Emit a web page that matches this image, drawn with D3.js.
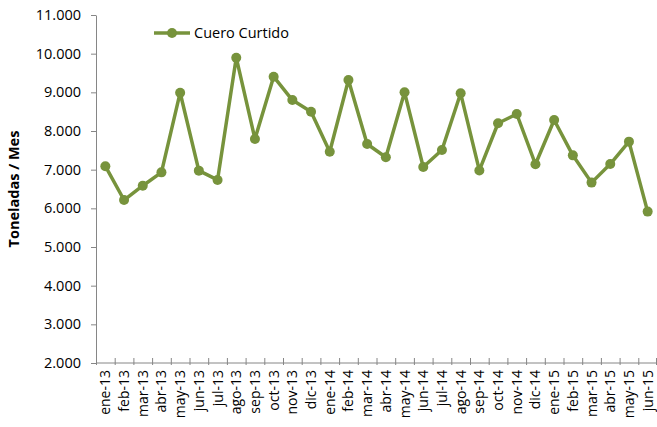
<!DOCTYPE html>
<html>
<head>
<meta charset="utf-8">
<script src="https://cdn.jsdelivr.net/npm/d3@7/dist/d3.min.js"></script>
<style>
  body { margin: 0; background: #fff; }
  text { font-family: "Open Sans", "Liberation Sans", sans-serif; fill: #000; }
</style>
</head>
<body>
<div id="chart"></div>
<script>
// data
var months = ["ene-13", "feb-13", "mar-13", "abr-13", "may-13", "jun-13", "jul-13", "ago-13", "sep-13", "oct-13", "nov-13", "dic-13",
  "ene-14", "feb-14", "mar-14", "abr-14", "may-14", "jun-14", "jul-14", "ago-14", "sep-14", "oct-14", "nov-14", "dic-14",
  "ene-15", "feb-15", "mar-15", "abr-15", "may-15", "jun-15"];
var cueroCurtido = [7090, 6215, 6585, 6930, 8990, 6975, 6735, 9895, 7795, 9405, 8800, 8500,
  7465, 9320, 7665, 7320, 9000, 7070, 7510, 8975, 6980, 8200, 8440, 7140,
  8285, 7370, 6665, 7145, 7725, 5915];
var yTicks = [2000, 3000, 4000, 5000, 6000, 7000, 8000, 9000, 10000, 11000];
var seriesName = "Cuero Curtido";

var svgWidth = 657;
var svgHeight = 427;
var margin = { top: 15, right: 0, bottom: 64, left: 96 };
var width = svgWidth - margin.left - margin.right;
var height = svgHeight - margin.top - margin.bottom;
var color = "#77933C";
var axisColor = "#868686";

var locale = d3.formatLocale({ decimal: ",", thousands: ".", grouping: [3], currency: ["", ""] });
var fmt = locale.format(",d");

var svg = d3.select("#chart")
  .append("svg")
  .attr("width", svgWidth)
  .attr("height", svgHeight);

var chartGroup = svg.append("g")
  .attr("transform", `translate(${margin.left}, ${margin.top})`);

var xScale = d3.scaleBand()
  .domain(months)
  .range([0, width]);

var yScale = d3.scaleLinear()
  .domain([2000, 11000])
  .range([height, 0]);

// y axis
var yAxis = chartGroup.append("g")
  .call(d3.axisLeft(yScale).tickValues(yTicks).tickFormat(fmt).tickSize(5).tickSizeOuter(0).tickPadding(10));
yAxis.select(".domain").attr("stroke", axisColor);
yAxis.selectAll(".tick line").attr("stroke", axisColor);
yAxis.selectAll(".tick text")
  .style("font-size", "14.5px")
  .attr("fill", "#000");

// x axis with cross ticks on band edges
var xAxisG = chartGroup.append("g")
  .attr("transform", `translate(0, ${height})`);
xAxisG.append("line")
  .attr("x1", 0).attr("x2", width)
  .attr("stroke", axisColor);
xAxisG.selectAll(".xtick")
  .data(months.concat(["_end"]))
  .enter()
  .append("line")
  .attr("class", "xtick")
  .attr("x1", (d, i) => i < months.length ? xScale(d) + 0.5 : width - 0.5)
  .attr("x2", (d, i) => i < months.length ? xScale(d) + 0.5 : width - 0.5)
  .attr("y1", -5)
  .attr("y2", 2)
  .attr("stroke", axisColor);
xAxisG.selectAll(".xlabel")
  .data(months)
  .enter()
  .append("text")
  .attr("class", "xlabel")
  .attr("transform", d => `translate(${xScale(d) + xScale.bandwidth() / 2 + 5}, 7) rotate(-90)`)
  .attr("text-anchor", "end")
  .style("font-size", "14px")
  .text(d => d);

// line + markers
var line = d3.line()
  .x((d, i) => xScale(months[i]) + xScale.bandwidth() / 2)
  .y(d => yScale(d));

chartGroup.append("path")
  .datum(cueroCurtido)
  .attr("d", line)
  .attr("fill", "none")
  .attr("stroke", color)
  .attr("stroke-width", 3.5)
  .attr("stroke-linejoin", "round");

chartGroup.selectAll("circle")
  .data(cueroCurtido)
  .enter()
  .append("circle")
  .attr("cx", (d, i) => xScale(months[i]) + xScale.bandwidth() / 2)
  .attr("cy", d => yScale(d))
  .attr("r", 5)
  .attr("fill", color);

// legend
var legend = svg.append("g")
  .attr("transform", "translate(154, 33)");
legend.append("line")
  .attr("x1", 0).attr("x2", 36)
  .attr("stroke", color)
  .attr("stroke-width", 3.5);
legend.append("circle")
  .attr("cx", 18)
  .attr("r", 5)
  .attr("fill", color);
legend.append("text")
  .attr("x", 40)
  .attr("dy", "0.35em")
  .style("font-size", "14.5px")
  .text(seriesName);

// y axis title
svg.append("text")
  .attr("transform", `translate(19, ${margin.top + height / 2}) rotate(-90)`)
  .attr("text-anchor", "middle")
  .style("font-size", "14.5px")
  .style("font-weight", "bold")
  .text("Toneladas / Mes");
</script>
</body>
</html>
